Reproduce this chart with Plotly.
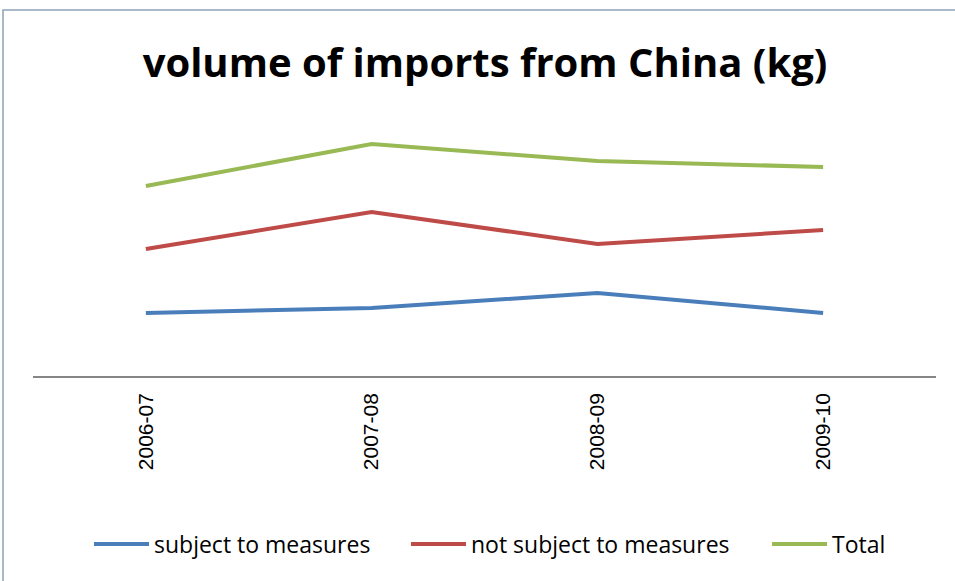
import plotly.graph_objects as go

years = ["2006-07", "2007-08", "2008-09", "2009-10"]
subject = [63, 68, 83, 63]
not_subject = [127, 164, 132, 146]
total = [190, 232, 215, 209]

series = [
    ("subject to measures", subject, "#4a7ebb", "legend", 95),
    ("not subject to measures", not_subject, "#be4b48", "legend2", 412),
    ("Total", total, "#98b954", "legend3", 773),
]

W, H = 955, 581
L, R, T, B = 33, 19, 100, 205
pw, ph = W - L - R, H - T - B

fig = go.Figure()
legends = {}
for name, vals, col, lg, lx in series:
    fig.add_trace(go.Scatter(x=years, y=vals, mode="lines", name=name, legend=lg,
                             line=dict(color=col, width=4)))
    legends[lg] = dict(orientation="h", x=(lx - 6 - L) / pw, xanchor="left",
                       y=-(544 - 376) / ph, yanchor="middle",
                       font=dict(family="Open Sans, sans-serif", size=23, color="black"),
                       itemwidth=55, bgcolor="rgba(0,0,0,0)", borderwidth=0)

fig.update_layout(
    width=W, height=H,
    margin=dict(l=L, r=R, t=T, b=B),
    paper_bgcolor="white", plot_bgcolor="white",
    title=dict(text="<b>volume of imports from China (kg)</b>", x=485 / W, xanchor="center",
               y=1 - 63 / H, yanchor="middle",
               font=dict(family="Open Sans, sans-serif", size=40, color="black")),
    showlegend=True,
    xaxis=dict(type="category", range=[-0.5, 3.5], showgrid=False, showline=True,
               linecolor="#868686", linewidth=1.5,
               ticks="", tickangle=-90, ticklabelstandoff=7,
               tickfont=dict(family="Liberation Sans, Arial, sans-serif", size=21, color="black"),
               fixedrange=True),
    yaxis=dict(range=[0, ph], showgrid=False, showline=False, showticklabels=False,
               zeroline=False, ticks=""),
    shapes=[dict(type="rect", xref="paper", yref="paper",
                 x0=(3 - L) / pw, x1=1 + (R + 10) / pw,
                 y0=-(B + 10) / ph, y1=1 + (T - 10) / ph,
                 line=dict(color="#8ea2b8", width=1.5), fillcolor="rgba(0,0,0,0)")],
    **legends,
)

fig.write_html("out.html")
